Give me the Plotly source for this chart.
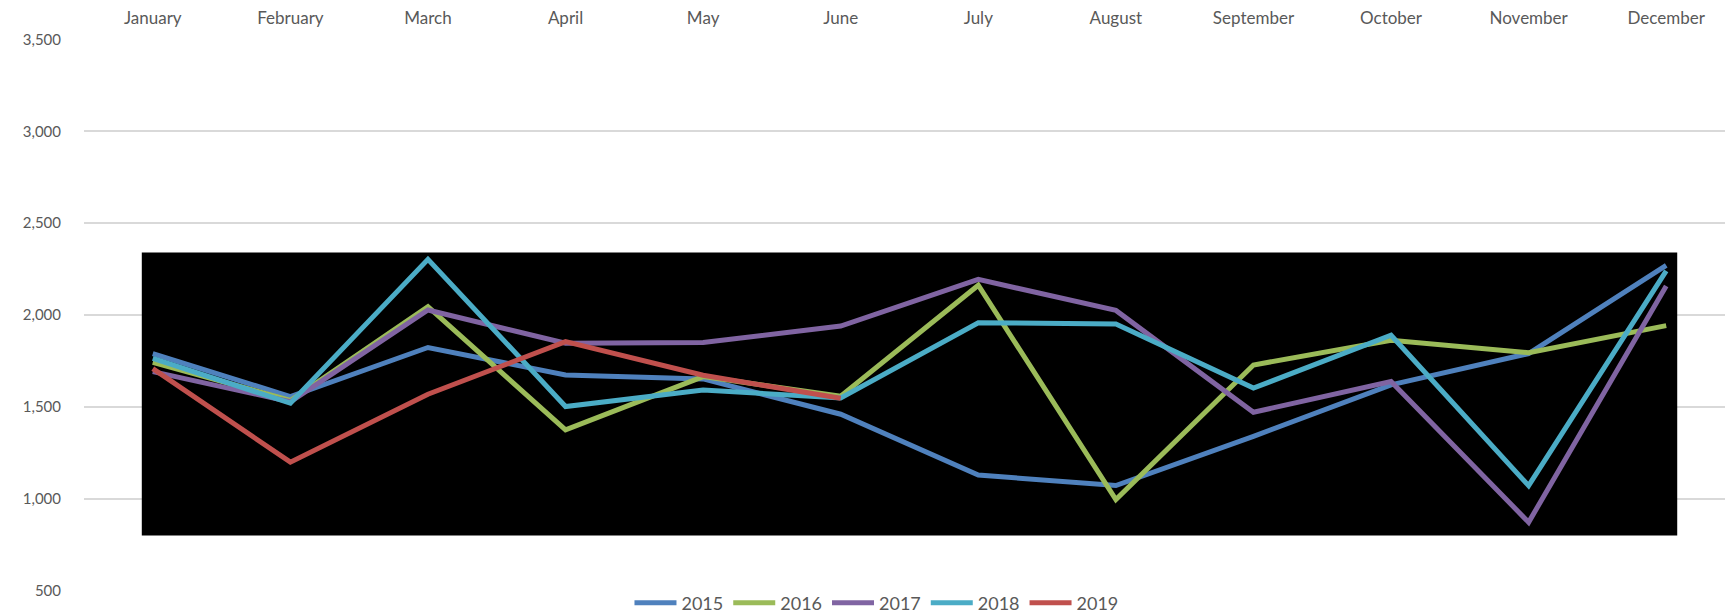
import plotly.graph_objects as go

months = ["January", "February", "March", "April", "May", "June", "July",
          "August", "September", "October", "November", "December"]

y2015 = [1790, 1556, 1823, 1674, 1652, 1460, 1129, 1072, 1340, 1620, 1790, 2270]
y2016 = [1743, 1535, 2045, 1375, 1665, 1558, 2162, 996, 1728, 1862, 1795, 1942]
y2017 = [1692, 1528, 2027, 1846, 1850, 1940, 2194, 2025, 1471, 1638, 872, 2158]
y2018 = [1764, 1520, 2303, 1502, 1592, 1548, 1958, 1951, 1602, 1890, 1071, 2240]
y2019 = [1708, 1199, 1569, 1855, 1672, 1547]

series = [
    ("2015", y2015, "#4F81BD"),
    ("2016", y2016, "#9BBB59"),
    ("2017", y2017, "#8064A2"),
    ("2018", y2018, "#4BACC6"),
    ("2019", y2019, "#C0504D"),
]

font_family = "Lato, 'Open Sans', sans-serif"
text_color = "#595959"

fig = go.Figure()
for name, vals, color in series:
    fig.add_trace(go.Scatter(
        x=months[:len(vals)], y=vals, name=name, mode="lines",
        line=dict(color=color, width=5, shape="linear"),
    ))

# black backdrop panel behind the lines (covers the gridlines)
fig.add_shape(type="rect", xref="x", yref="y",
              x0=-0.08, x1=11.08, y0=800, y1=2340,
              fillcolor="black", line=dict(width=0), layer="between")

# note: the page body adds an 8px offset, so margins compensate for it
fig.update_layout(
    width=1733, height=613,
    margin=dict(l=76, r=6, t=31, b=30, autoexpand=False),
    paper_bgcolor="white", plot_bgcolor="white",
    font=dict(family=font_family, size=15, color=text_color),
    showlegend=True,
    legend=dict(orientation="h", x=0.48, xanchor="center",
                y=-0.022, yanchor="middle",
                font=dict(size=18, color=text_color),
                itemwidth=42, tracegroupgap=0, bgcolor="rgba(0,0,0,0)"),
)
fig.update_xaxes(
    type="category", categoryorder="array", categoryarray=months,
    side="top", range=[-0.5, 11.5], showgrid=False, showline=False,
    ticks="", tickfont=dict(size=17, color=text_color), zeroline=False,
    automargin=False, ticklabelstandoff=11,
)
fig.update_yaxes(
    range=[498, 3502], dtick=500, tickformat=",", showgrid=True,
    gridcolor="#D9D9D9", gridwidth=1.5, zeroline=False, showline=False,
    ticks="", ticklabelstandoff=22, automargin=False,
    tickfont=dict(size=15, color=text_color),
)

fig.write_html("out.html")
